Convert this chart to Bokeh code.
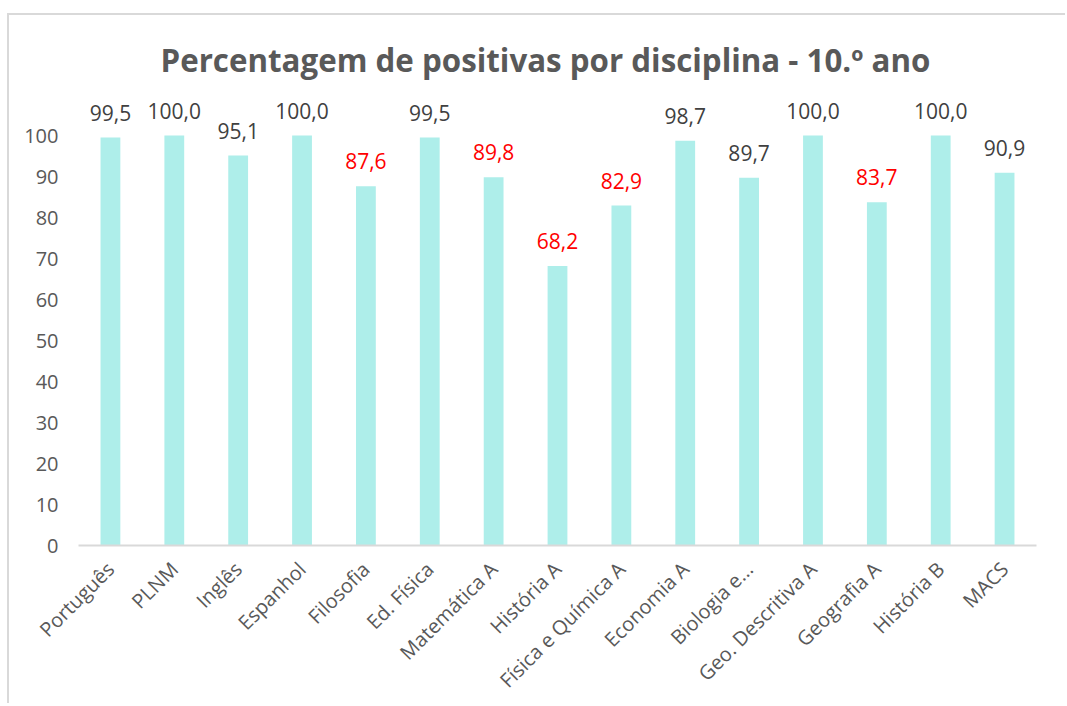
import math
from bokeh.plotting import figure
from bokeh.models import ColumnDataSource, FixedTicker
from bokeh.embed import file_html
from bokeh.resources import INLINE
from bokeh.core.properties import value

categories = ["Português", "PLNM", "Inglês", "Espanhol", "Filosofia", "Ed. Física",
              "Matemática A", "História A", "Física e Química A", "Economia A",
              "Biologia e...", "Geo. Descritiva A", "Geografia A", "História B", "MACS"]
values = [99.5, 100.0, 95.1, 100.0, 87.6, 99.5, 89.8, 68.2, 82.9, 98.7, 89.7, 100.0, 83.7, 100.0, 90.9]
highlight = [False, False, False, False, True, False, True, True, True, False, False, False, True, False, False]
y_ticks = [0, 10, 20, 30, 40, 50, 60, 70, 80, 90, 100]

labels = [f"{v:.1f}".replace(".", ",") for v in values]
label_colors = ["#FF0000" if h else "#404040" for h in highlight]

src = ColumnDataSource(dict(cat=categories, val=values, lab=labels, col=label_colors))

FONT = "Open Sans"
GRAY = "#595959"

p = figure(x_range=categories, y_range=(0, 110), width=1058, height=690,
           output_backend="svg", toolbar_location=None,
           title="Percentagem de positivas por disciplina - 10.º ano",
           min_border_left=69, min_border_right=31, min_border_top=79, min_border_bottom=158)

p.vbar(x="cat", top="val", width=0.31, source=src, fill_color="#AEEEEA", line_color=None)
p.text(x="cat", y="val", text="lab", source=src, text_color="col",
       text_align="center", text_baseline="bottom", y_offset=-17,
       text_font=value(FONT), text_font_size="21px")

p.title.align = "left"
p.title.offset = 82
p.title.text_font = FONT
p.title.text_font_size = "31.3px"
p.title.text_font_style = "bold"
p.title.text_color = GRAY
p.title.standoff = 28

p.outline_line_color = None
p.grid.grid_line_color = None
p.background_fill_color = "white"
p.border_fill_color = "white"

p.yaxis.ticker = FixedTicker(ticks=y_ticks)
p.yaxis.axis_line_color = None
p.yaxis.major_tick_line_color = None
p.yaxis.minor_tick_line_color = None
p.yaxis.major_label_text_font = FONT
p.yaxis.major_label_text_font_size = "20px"
p.yaxis.major_label_text_color = GRAY
p.yaxis.major_label_standoff = 14

p.xaxis.axis_line_color = "#D9D9D9"
p.xaxis.axis_line_width = 2
p.xaxis.major_tick_line_color = None
p.xaxis.minor_tick_line_color = None
p.xaxis.major_label_orientation = math.pi / 4
p.xaxis.major_label_text_font = FONT
p.xaxis.major_label_text_font_size = "20px"
p.xaxis.major_label_text_color = GRAY
p.xaxis.major_label_standoff = 14

p.styles = {"border-top": "2px solid #D9D9D9", "border-left": "2px solid #D9D9D9",
            "margin-top": "13px", "margin-left": "7px"}

open("out.html", "w").write(file_html(p, INLINE))
